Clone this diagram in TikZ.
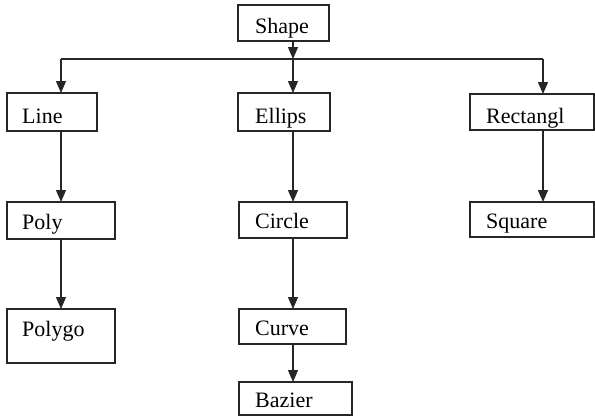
\documentclass[tikz,border=0pt]{standalone}
\usepackage{fontspec}
\setmainfont{Liberation Serif}
\usetikzlibrary{arrows.meta}
\begin{document}
\begin{tikzpicture}[x=1pt,y=-1pt,
  boxnode/.style={draw=black!85, line width=1.1pt, rectangle, anchor=north west, inner sep=0pt, outer sep=0pt},
  lbl/.style={anchor=base west, inner sep=0pt, font=\fontsize{22}{24}\selectfont},
  conn/.style={line width=1.3pt, draw=black!85},
  arr/.style={conn, -{Triangle[length=12pt,width=10pt]}}]
\useasboundingbox (0,0) rectangle (595,416);
% boxes
\node[boxnode, minimum width=91pt, minimum height=36pt] (shape) at (238,5) {};
\node[boxnode, minimum width=90pt, minimum height=38pt] (line) at (7,93) {};
\node[boxnode, minimum width=92pt, minimum height=38pt] (ellips) at (238,93) {};
\node[boxnode, minimum width=124pt, minimum height=36pt] (rect) at (470,94) {};
\node[boxnode, minimum width=108pt, minimum height=37pt] (poly) at (7,202) {};
\node[boxnode, minimum width=108pt, minimum height=36pt] (circle) at (239,202) {};
\node[boxnode, minimum width=124pt, minimum height=35pt] (square) at (470,202) {};
\node[boxnode, minimum width=108pt, minimum height=54pt] (polygo) at (7,309) {};
\node[boxnode, minimum width=107pt, minimum height=35pt] (curve) at (239,309) {};
\node[boxnode, minimum width=113pt, minimum height=33pt] (bazier) at (239,382) {};
% labels
\node[lbl] (shapeT) at (255,33) {Shape};
\node[lbl] (lineT) at (22,123) {Line};
\node[lbl] (ellipsT) at (255,123) {Ellips};
\node[lbl] (rectT) at (486,123) {Rectangl};
\node[lbl] (polyT) at (22,229) {Poly};
\node[lbl] (circleT) at (255,228) {Circle};
\node[lbl] (squareT) at (486,228) {Square};
\node[lbl] (polygoT) at (22,336) {Polygo};
\node[lbl] (curveT) at (255,335) {Curve};
\node[lbl] (bazierT) at (255,407) {Bazier};
% bus
\coordinate (busL) at (61,59);
\coordinate (busM) at (293,59);
\coordinate (busR) at (543,59);
\draw[arr] (shape.south -| busM) -- (busM);
\draw[conn] (busL) -- (busR);
\draw[arr] (busL) -- (busL |- line.north);
\draw[arr] (busM) -- (busM |- ellips.north);
\draw[arr] (busR) -- (busR |- rect.north);
% columns
\draw[arr] (line.south -| busL) -- (poly.north -| busL);
\draw[arr] (poly.south -| busL) -- (polygo.north -| busL);
\draw[arr] (ellips.south -| busM) -- (circle.north -| busM);
\draw[arr] (circle.south -| busM) -- (curve.north -| busM);
\draw[arr] (curve.south -| busM) -- (bazier.north -| busM);
\draw[arr] (rect.south -| busR) -- (square.north -| busR);
\end{tikzpicture}
\end{document}
